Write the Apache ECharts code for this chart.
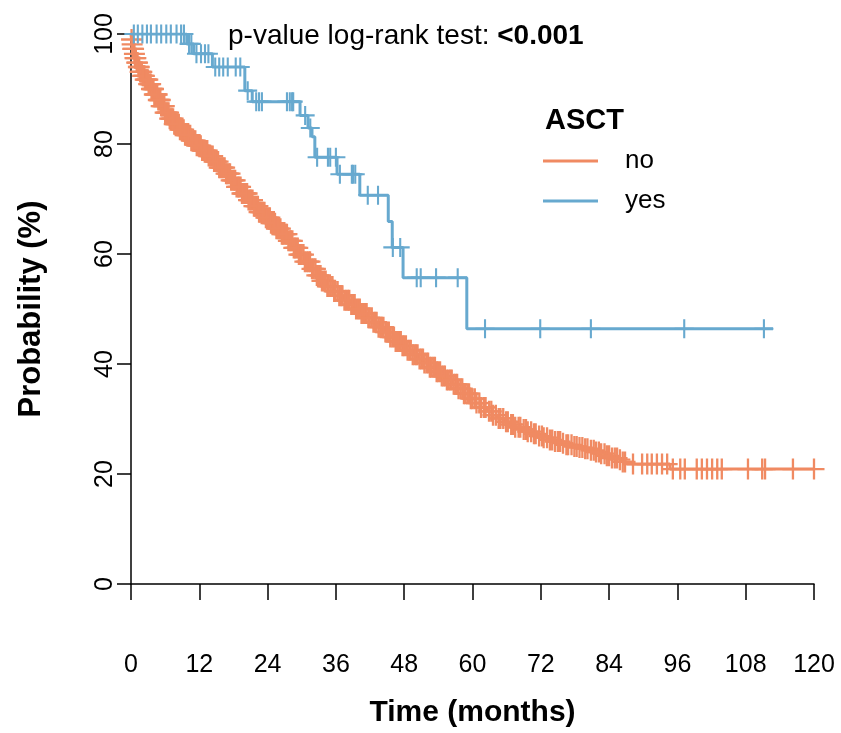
<!DOCTYPE html>
<html>
<head>
<meta charset="utf-8">
<script src="https://cdn.jsdelivr.net/npm/echarts@6/dist/echarts.min.js"></script>
<style>
html,body{margin:0;padding:0;background:#fff;}
#chart{width:841px;height:733px;}
</style>
</head>
<body>
<div id="chart"></div>
<script>
// ---- Data ----
const groupNames = ['no', 'yes'];
const groupColors = ['#F08A62', '#67A9CF'];

// ASCT = no : step times (months) and survival (%)
const noTimes = [0,0.1,0.2,0.3,0.5,0.7,0.9,1.2,1.6,2.0,2.5,3.0,3.5,4.1,4.7,5.3,6.0,6.8,7.6,8.5,9.5,10.5,11.5,12.5,13.5,14.5,15.5,16.5,17.5,18.5,19.5,20.5,21.5,22.5,23.5,24.5,25.5,26.5,27.5,28.5,29.5,30.5,31.5,32.5,33.5,34.5,35.5,36.5,37.5,38.5,39.5,40.5,41.5,42.5,43.5,44.5,45.5,46.5,47.5,48.5,49.5,50.5,51.5,52.5,53.5,54.5,55.5,56.5,57.5,58.5,59.5,60.5,61.5,62.5,63.5,64.5,65.5,66.5,67.5,68.5,69.5,70.5,71.5,72.5,73.5,74.5,75.5,76.5,77.5,78.5,79.5,80.5,81.5,82.5,83.5,84.5,85.5,86.3,87.1,94.7,120];
const noSurv  = [100,99.0,98.1,97.3,96.4,95.6,94.8,94.0,93.1,92.4,91.7,90.9,90.0,89.0,88.0,86.9,85.7,84.6,83.6,82.6,81.6,80.6,79.7,78.8,77.8,76.8,75.7,74.6,73.4,72.2,71.0,69.8,68.7,67.6,66.6,65.6,64.6,63.6,62.4,61.1,59.9,58.6,57.3,56.1,55.1,54.1,53.2,52.4,51.6,50.8,50.0,49.2,48.4,47.6,46.7,45.8,44.9,44.1,43.3,42.5,41.7,40.9,40.2,39.4,38.6,37.8,37.1,36.3,35.5,34.6,33.7,32.9,32.1,31.4,30.7,30.1,29.5,29.0,28.5,28.1,27.7,27.3,26.9,26.6,26.2,25.9,25.6,25.3,25.0,24.8,24.6,24.3,24.0,23.7,23.3,22.9,22.6,22.2,21.8,20.9,20.9];
const noCensor = [
  0.1,0.2,0.3,0.45,0.6,0.7,0.85,1.0,1.15,1.3,1.45,1.6,1.75,1.9,2.05,2.2,2.35,2.5,2.65,2.8,2.95,3.1,3.3,3.45,3.6,3.8,3.95,4.1,4.3,4.45,4.6,4.8,5.0,5.15,5.3,5.5,5.7,5.85,6.0,6.2,6.4,6.6,6.8,7.0,7.2,7.4,7.6,7.8,8.0,8.2,8.4,8.6,8.8,9.0,9.25,9.5,9.7,9.9,
  10.15,10.4,10.6,10.85,11.1,11.3,11.55,11.8,12.0,12.25,12.5,12.7,12.95,13.2,13.4,13.65,13.9,14.1,14.35,14.6,14.8,15.05,15.3,15.5,15.75,16.0,16.2,16.45,16.7,16.9,17.15,17.4,17.6,17.85,18.1,18.3,18.55,18.8,19.0,19.25,19.5,19.7,19.95,20.2,20.4,20.65,20.9,21.1,21.35,21.6,21.8,22.05,22.3,22.5,22.75,23.0,23.2,23.45,23.7,23.9,24.15,24.4,24.6,24.85,25.1,25.3,25.55,25.8,26.0,26.25,26.5,26.7,26.95,27.2,27.4,27.65,27.9,28.1,28.35,28.6,28.8,29.05,29.3,29.5,29.75,
  30.0,30.3,30.55,30.9,31.2,31.45,31.8,32.1,32.4,32.65,33.0,33.3,33.55,33.9,34.2,34.5,34.75,35.1,35.4,35.7,35.95,36.3,36.6,36.9,37.15,37.5,37.8,38.1,38.35,38.7,39.0,39.3,39.55,39.9,40.2,40.5,40.75,41.1,41.4,41.7,41.95,42.3,42.6,42.9,43.15,43.5,43.8,44.1,44.35,44.7,45.0,45.3,45.55,45.9,46.2,46.5,46.75,47.1,47.4,47.7,47.95,48.3,48.6,48.9,49.15,49.5,49.8,50.1,50.35,50.7,51.0,51.3,51.55,51.9,52.2,52.5,52.75,53.1,53.4,53.7,53.95,54.3,54.6,54.9,55.15,55.5,55.8,56.1,56.35,56.7,57.0,57.3,57.55,57.9,58.2,58.5,58.75,59.1,59.4,59.7,
  60.0,60.4,60.7,61.2,61.5,62.0,62.3,62.9,63.3,63.6,64.1,64.6,64.9,65.4,65.9,66.2,66.8,67.1,67.5,68.1,68.4,69.0,69.4,69.7,70.3,70.8,71.1,71.7,72.2,72.5,73.1,73.6,74.0,74.5,75.0,75.4,75.9,76.5,76.8,77.4,77.9,78.3,78.8,79.3,79.8,80.2,80.8,81.3,81.7,82.2,82.6,83.2,83.6,84.0,84.5,85.0,85.4,85.9,86.4,86.8,
  88.2,89.8,90.7,91.5,92.4,93.3,94.2,95.2,96.5,97.3,99.4,100.3,101.2,102.1,103.0,103.8,108.4,110.9,111.4,116.3,120.0];

// ASCT = yes
const yesTimes = [0,9.8,11.0,14.3,20.0,21.3,29.7,31.1,31.8,32.3,36.2,40.2,45.2,45.9,47.8,59.0,112.8];
const yesSurv  = [100,98.2,96.4,94.0,89.7,87.7,85.2,82.9,81.3,77.6,74.5,70.7,65.9,61.2,55.7,46.4,46.4];
const yesCensor = [0.5,1.2,2.0,2.8,3.5,4.5,5.3,6.2,7.0,8.0,8.8,9.3,10.2,10.6,11.5,12.3,13.0,13.6,14.8,15.5,16.2,17.0,18.4,19.2,20.5,22.0,22.5,23.0,27.4,27.9,28.3,28.5,30.6,31.5,32.7,34.6,35.0,36.0,36.7,38.8,39.0,39.4,41.6,43.4,46.0,47.3,50.2,50.9,53.6,57.4,62.2,71.9,80.8,97.2,111.2];

const xTicks = [0,12,24,36,48,60,72,84,96,108,120];
const yTicks = [0,20,40,60,80,100];
const pValueText = '<0.001';

// ---- helpers ----
function survAt(times, surv, t) {
  let v = surv[0];
  for (let i = 0; i < times.length; i++) { if (times[i] <= t) v = surv[i]; else break; }
  return v;
}
const pairs = (a, b) => a.map((t, i) => [t, b[i]]);
const censorPts = (c, times, surv) => c.map(t => [t, survAt(times, surv, t)]);

const plusPath = 'path://M-1,-0.11L1,-0.11L1,0.11L-1,0.11ZM-0.11,-1L0.11,-1L0.11,1L-0.11,1Z';
const FONT = '"Liberation Sans", Arial, Helvetica, sans-serif';

const chart = echarts.init(document.getElementById('chart'), null, {renderer: 'canvas'});
const option = {
  animation: false,
  backgroundColor: '#ffffff',
  textStyle: {fontFamily: FONT, color: '#000'},
  title: [
    {
      text: '{a|p-value log-rank test: }{b|' + pValueText + '}',
      left: 228, top: 22, padding: 0,
      textStyle: {fontFamily: FONT, fontSize: 28, fontWeight: 'normal', color: '#000', rich: {
        a: {fontFamily: FONT, fontSize: 28, fontWeight: 'normal', color: '#000'},
        b: {fontFamily: FONT, fontSize: 28, fontWeight: 'bold', color: '#000'}
      }}
    },
    {
      text: 'ASCT', left: 545, top: 106, padding: 0,
      textStyle: {fontFamily: FONT, fontSize: 29, fontWeight: 'bold', color: '#000'}
    }
  ],
  legend: {
    data: groupNames,
    orient: 'vertical',
    left: 543, top: 148,
    padding: 0,
    icon: 'rect',
    itemWidth: 55, itemHeight: 3,
    itemGap: 14,
    textStyle: {fontFamily: FONT, fontSize: 26, color: '#000', padding: [0, 0, 0, 22], lineHeight: 26}
  },
  grid: {left: 131, right: 27, top: 34, bottom: 148, containLabel: false},
  xAxis: {
    type: 'value', min: 0, max: 120, interval: 12,
    offset: 21,
    name: 'Time (months)', nameLocation: 'middle', nameGap: 93,
    nameTextStyle: {fontFamily: FONT, fontSize: 30, fontWeight: 'bold', color: '#000'},
    axisLine: {show: true, lineStyle: {color: '#000', width: 1.5}},
    axisTick: {show: true, length: 16, lineStyle: {color: '#000', width: 1.5}},
    axisLabel: {fontFamily: FONT, fontSize: 25, color: '#000', margin: 48,
      formatter: v => xTicks.includes(v) ? String(v) : ''},
    splitLine: {show: false}
  },
  yAxis: {
    type: 'value', min: 0, max: 100, interval: 20,
    name: 'Probability (%)', nameLocation: 'middle', nameGap: 84, nameRotate: 90,
    nameTextStyle: {fontFamily: FONT, fontSize: 31, fontWeight: 'bold', color: '#000'},
    axisLine: {show: true, lineStyle: {color: '#000', width: 1.5}},
    axisTick: {show: true, length: 14, lineStyle: {color: '#000', width: 1.5}},
    axisLabel: {fontFamily: FONT, fontSize: 25, color: '#000', margin: 13, rotate: 90,
      formatter: v => yTicks.includes(v) ? String(v) : ''},
    splitLine: {show: false}
  },
  series: [
    {
      name: groupNames[0], type: 'line', step: 'end', showSymbol: false,
      data: pairs(noTimes, noSurv), color: groupColors[0],
      lineStyle: {width: 3, color: groupColors[0]}, z: 2
    },
    {
      name: groupNames[1], type: 'line', step: 'end', showSymbol: false,
      data: pairs(yesTimes, yesSurv), color: groupColors[1],
      lineStyle: {width: 3, color: groupColors[1]}, z: 3
    },
    {
      name: 'no-censor', type: 'scatter', symbol: plusPath, symbolSize: 21,
      data: censorPts(noCensor, noTimes, noSurv),
      itemStyle: {color: groupColors[0], opacity: 1}, z: 2
    },
    {
      name: 'yes-censor', type: 'scatter', symbol: plusPath, symbolSize: 19,
      data: censorPts(yesCensor, yesTimes, yesSurv),
      itemStyle: {color: groupColors[1], opacity: 1}, z: 3
    }
  ]
};
chart.setOption(option);
</script>
</body>
</html>
